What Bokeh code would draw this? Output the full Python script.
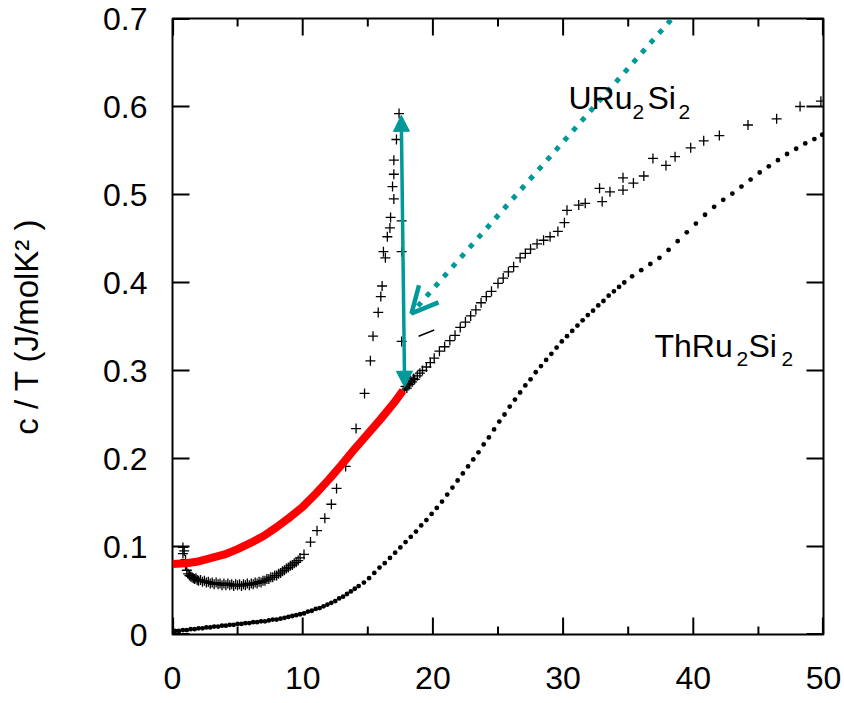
from bokeh.plotting import figure
from bokeh.models import (Range1d, LinearAxis, FixedTicker, Label, Arrow,
                          NormalHead, OpenHead)
from bokeh.embed import file_html
from bokeh.resources import INLINE

# ---------------- data ----------------
# ThRu2Si2 (filled dots)
th_T = [0.2, 0.5, 0.8, 1.1, 1.4, 1.7, 2.0, 2.3, 2.6, 2.9, 3.2, 3.5, 3.8, 4.1, 4.4, 4.7,
        5.0, 5.3, 5.6, 5.9, 6.2, 6.5, 6.8, 7.1, 7.4, 7.7, 8.0, 8.3, 8.6, 8.9, 9.2, 9.5,
        9.8, 10.1, 10.4, 10.7, 11.0, 11.3, 11.6, 11.9, 12.2, 12.5, 12.8, 13.1, 13.4, 13.7,
        14.0, 14.3,
        14.7, 15.1, 15.5, 15.9, 16.3, 16.7, 17.1, 17.5, 17.9, 18.3, 18.7, 19.1, 19.5, 19.9,
        20.3, 20.7, 21.1, 21.5, 21.9, 22.3, 22.7, 23.1, 23.5, 23.9, 24.3, 24.7, 25.1, 25.5,
        25.9, 26.3, 26.7, 27.1, 27.5, 27.9, 28.3, 28.7, 29.1, 29.5, 29.9, 30.3, 30.7, 31.1,
        31.5, 31.9, 32.3, 32.7, 33.1, 33.5, 33.9, 34.3, 34.7,
        35.3, 36.0, 36.7, 37.4, 38.1, 38.8, 39.5, 40.2, 40.9, 41.6, 42.3, 43.0, 43.7, 44.4,
        45.1, 45.8, 46.5, 47.2, 47.9, 48.6, 49.3, 49.9]
th_C = [0.004, 0.004, 0.005, 0.005, 0.006, 0.006, 0.007, 0.007, 0.008, 0.008, 0.009, 0.009,
        0.010, 0.010, 0.011, 0.011, 0.012, 0.012, 0.013, 0.013, 0.014, 0.014, 0.015, 0.015,
        0.016, 0.017, 0.017, 0.018, 0.019, 0.020, 0.021, 0.022, 0.023, 0.024, 0.026, 0.027,
        0.029, 0.030, 0.032, 0.034, 0.036, 0.038, 0.041, 0.043, 0.046, 0.049, 0.052, 0.055,
        0.059, 0.064, 0.070, 0.076, 0.081, 0.087, 0.093, 0.099, 0.105, 0.111,
        0.117, 0.124, 0.130, 0.137, 0.144, 0.151, 0.159, 0.167, 0.175, 0.183,
        0.191, 0.199, 0.207, 0.216, 0.224, 0.233, 0.242, 0.250, 0.259, 0.267,
        0.275, 0.283, 0.290, 0.298, 0.305, 0.312, 0.319, 0.326, 0.333, 0.339,
        0.345, 0.351, 0.357, 0.363, 0.368, 0.374, 0.379, 0.385, 0.390, 0.395, 0.400,
        0.407, 0.414, 0.421, 0.428, 0.437, 0.447, 0.457, 0.467, 0.477, 0.486, 0.494,
        0.501, 0.509, 0.517, 0.525, 0.532, 0.539, 0.546, 0.552, 0.558, 0.563, 0.568]

# URu2Si2 (plus markers)
u_T = [0.8, 0.8, 0.9, 1.0, 1.0, 1.1, 1.2, 1.3, 1.4, 1.5, 1.6, 1.7, 1.8, 1.9, 2.0, 2.15,
       2.3, 2.45, 2.6, 2.75, 2.9, 3.05, 3.2, 3.35, 3.5, 3.65, 3.8, 3.95, 4.1, 4.25, 4.4,
       4.55, 4.7, 4.85, 5.0, 5.15, 5.3, 5.45, 5.6, 5.75, 5.9, 6.05, 6.2, 6.35, 6.5, 6.65,
       6.8, 6.95, 7.1, 7.25, 7.4, 7.55, 7.7, 7.85, 8.0, 8.15, 8.3, 8.45, 8.6, 8.75, 8.9,
       9.05, 9.2, 9.35, 9.5, 9.65, 9.8, 10.1, 10.6, 11.1, 11.7, 12.2, 12.6, 13.3, 14.1,
       14.75, 15.2, 15.4, 15.8, 16.0, 16.1, 16.2, 16.35, 16.5, 16.7, 16.75, 16.9, 17.0,
       17.0, 17.0, 17.2, 17.4, 17.6, 17.6, 17.6,
       17.8, 17.9, 18.0, 18.1, 18.2, 18.3, 18.4, 18.5, 18.6, 18.8, 19.0, 19.2, 19.5, 19.8,
       20.1, 20.5, 20.9, 21.3, 21.7, 22.1, 22.5, 22.9, 23.3, 23.7, 24.1, 24.5, 25.0, 25.4,
       25.8, 26.2, 26.7, 27.1, 27.5, 28.0, 28.5, 29.0, 29.6, 30.1, 30.3, 31.2, 31.7, 32.8,
       33.0, 33.6, 34.6, 34.6, 35.4, 36.2, 36.9, 37.9, 38.6, 39.8, 40.8, 42.0, 44.2, 46.4,
       48.2, 49.8]
u_C = [0.099, 0.092, 0.095, 0.085, 0.078, 0.073, 0.069, 0.067, 0.066, 0.065, 0.064, 0.063,
       0.064, 0.062, 0.061, 0.062, 0.060, 0.061, 0.059, 0.060, 0.058, 0.059, 0.057, 0.059,
       0.057, 0.058, 0.056, 0.058, 0.056, 0.058, 0.056, 0.057, 0.055, 0.057, 0.056, 0.057,
       0.055, 0.057, 0.056, 0.058, 0.056, 0.058, 0.057, 0.059, 0.058, 0.060, 0.059, 0.061,
       0.061, 0.063, 0.063, 0.065, 0.065, 0.067, 0.067, 0.069, 0.070, 0.072, 0.073, 0.075,
       0.076, 0.078, 0.079, 0.081, 0.082, 0.084, 0.087, 0.091, 0.105, 0.118, 0.132, 0.148,
       0.166, 0.191, 0.234, 0.274, 0.311, 0.339, 0.366, 0.384, 0.396, 0.435, 0.428, 0.452,
       0.462, 0.474, 0.509, 0.495, 0.523, 0.539, 0.5625, 0.592, 0.470, 0.435, 0.333,
       0.278, 0.282, 0.280, 0.285, 0.284, 0.288, 0.287, 0.291, 0.290, 0.294, 0.297, 0.300,
       0.304, 0.309, 0.314, 0.322, 0.327, 0.334, 0.340, 0.349, 0.355, 0.362, 0.369, 0.377,
       0.384, 0.390, 0.399, 0.405, 0.412, 0.418, 0.428, 0.433, 0.438, 0.444, 0.448, 0.452,
       0.458, 0.468, 0.482, 0.488, 0.490, 0.507, 0.492, 0.503, 0.519, 0.505, 0.513, 0.521,
       0.541, 0.533, 0.543, 0.553, 0.561, 0.567, 0.579, 0.586, 0.600, 0.606]

# red curve (extrapolated normal-state c/T)
red_T = [0, 1, 2, 3, 4, 5, 6, 7, 8, 9, 10, 11, 12, 13, 14, 15, 16, 17, 17.7]
red_C = [0.080, 0.081, 0.083, 0.087, 0.091, 0.097, 0.104, 0.112, 0.122, 0.133, 0.145,
         0.160, 0.176, 0.193, 0.211, 0.228, 0.245, 0.263, 0.277]

# annotation anchors (data units)
jump_arrow = dict(x_start=17.83, y_start=0.281, x_end=17.57, y_end=0.590)
dot_arrow = dict(x_start=39.6, y_start=0.7205, x_end=18.36, y_end=0.365)
dash_T = [18.9, 20.1]
dash_C = [0.339, 0.346]

x_ticks = [0, 10, 20, 30, 40, 50]
x_minor = [5, 15, 25, 35, 45]
x_tick_labels = ["0", "10", "20", "30", "40", "50"]
y_ticks = [0, 0.1, 0.2, 0.3, 0.4, 0.5, 0.6, 0.7]
y_tick_labels = ["0", "0.1", "0.2", "0.3", "0.4", "0.5", "0.6", "0.7"]

X0, X1, Y0, Y1 = 0, 50, 0, 0.7
FRAME_W, FRAME_H = 651, 616          # frame size in px (844-172-21, 703-18-69)
FONT = "Liberation Sans"
TEAL = "#009999"

# ---------------- figure ----------------
p = figure(width=844, height=703, x_range=Range1d(X0, X1), y_range=Range1d(Y0, Y1),
           output_backend="svg", toolbar_location=None,
           min_border_left=172, min_border_right=21, min_border_top=18,
           min_border_bottom=69, x_axis_location=None, y_axis_location=None)
p.grid.visible = False
p.outline_line_color = "black"
p.outline_line_width = 2
p.background_fill_color = None
p.border_fill_color = None


def style_axis(ax):
    ax.axis_line_color = None
    ax.major_tick_line_color = None
    ax.minor_tick_line_color = None
    ax.major_tick_in = 0
    ax.major_tick_out = 0
    ax.minor_tick_in = 0
    ax.minor_tick_out = 0
    ax.major_label_text_font = FONT
    ax.major_label_text_color = "black"
    ax.major_label_text_font_size = "32px"


xt = FixedTicker(ticks=x_ticks, minor_ticks=x_minor)
yt = FixedTicker(ticks=y_ticks, minor_ticks=[])

bottom = LinearAxis(ticker=xt)
style_axis(bottom)
bottom.major_label_standoff = 32
bottom.major_label_overrides = dict(zip(x_ticks, x_tick_labels))
p.add_layout(bottom, "below")

left = LinearAxis(ticker=yt)
style_axis(left)
left.major_label_standoff = 25
left.major_label_overrides = dict(zip(y_ticks, y_tick_labels))
left.axis_label = "c / T (J/molK\u00b2 )"
left.axis_label_text_font = FONT
left.axis_label_text_font_size = "33px"
left.axis_label_text_font_style = "normal"
left.axis_label_text_color = "black"
left.axis_label_standoff = 55
p.add_layout(left, "left")

# inward tick marks on all four sides: segments that start outside the frame
# (clipped there) and reach the wanted length inside it
tx = (X1 - X0) / FRAME_W   # data units per px
ty = (Y1 - Y0) / FRAME_H
MAJ, MIN, OUT = 17, 8, 6
tick_x0, tick_y0, tick_x1, tick_y1 = [], [], [], []
for xs, length in ((x_ticks, MAJ), (x_minor, MIN)):
    for xv in xs:
        xv = min(max(xv, X0 + 0.6 * tx), X1 - 0.6 * tx)
        tick_x0 += [xv, xv]
        tick_x1 += [xv, xv]
        tick_y0 += [Y0 - OUT * ty, Y1 + OUT * ty]
        tick_y1 += [Y0 + length * ty, Y1 - length * ty]
for yv in y_ticks:
    yv = min(max(yv, Y0 + 0.6 * ty), Y1 - 0.6 * ty)
    tick_x0 += [X0 - OUT * tx, X1 + OUT * tx]
    tick_x1 += [X0 + MAJ * tx, X1 - MAJ * tx]
    tick_y0 += [yv, yv]
    tick_y1 += [yv, yv]
p.segment(x0=tick_x0, y0=tick_y0, x1=tick_x1, y1=tick_y1,
          line_color="black", line_width=2)

# ---------------- data glyphs ----------------
p.scatter(th_T, th_C, marker="circle", size=4.8, fill_color="black", line_color=None)
p.scatter(u_T, u_C, marker="cross", size=10, line_color="black", line_width=1.3)
p.line(red_T, red_C, line_color="#ff0000", line_width=8)
p.line(dash_T, dash_C, line_color="black", line_width=1.5)

# ---------------- annotations ----------------
p.add_layout(Arrow(start=NormalHead(size=16, fill_color=TEAL, line_color=TEAL),
                   end=NormalHead(size=16, fill_color=TEAL, line_color=TEAL),
                   line_color=TEAL, line_width=3.5, **jump_arrow))
p.add_layout(Arrow(end=OpenHead(size=26, line_color=TEAL, line_width=4.5),
                   line_color=TEAL, line_width=5, line_dash="5 8", **dot_arrow))


def formula(parts, y_main, y_sub):
    for txt, xpos, sub in parts:
        p.add_layout(Label(x=xpos, y=y_sub if sub else y_main, text=txt,
                           text_font=FONT, text_font_size="21px" if sub else "32px",
                           text_color="black", text_baseline="alphabetic",
                           text_align="left"))


formula([("URu", 30.41, False), ("2", 35.33, True), ("Si", 36.48, False), ("2", 38.86, True)],
        0.6102, 0.5932)
formula([("ThRu", 37.02, False), ("2", 43.32, True), ("Si", 44.24, False), ("2", 46.77, True)],
        0.3284, 0.3130)

open("out.html", "w").write(file_html(p, INLINE))
